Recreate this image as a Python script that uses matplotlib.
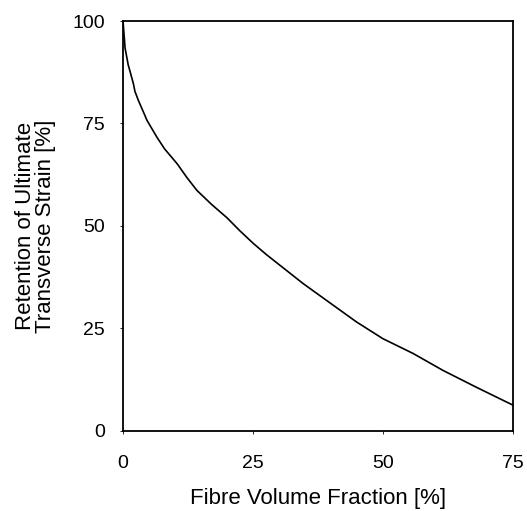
import matplotlib
matplotlib.use("Agg")
import matplotlib.pyplot as plt

plt.rcParams['font.family'] = ['Liberation Sans', 'DejaVu Sans']

# fibre volume fraction [%] and retention of ultimate transverse strain [%]
vf = [0, 0.4, 1.0, 1.4, 2.0, 2.3, 3.0, 4.2, 4.6, 6.5, 8.0, 10.4, 12.3, 14.2, 17.0, 20.0,
      22.5, 25.1, 27.6, 30.2, 34.7, 40.4, 44.9, 50.0, 55.8, 61.5, 67.9, 75.0]
retention = [100, 93.4, 89.3, 87.5, 84.7, 82.8, 80.5, 77.0, 75.8, 71.7, 68.8, 65.2,
             61.8, 58.7, 55.3, 52.0, 48.8, 45.7, 43.0, 40.4, 35.9, 30.7, 26.6, 22.5,
             18.9, 14.8, 10.7, 6.3]

xticks = [0, 25, 50, 75]
yticks = [0, 25, 50, 75, 100]

fig = plt.figure(figsize=(5.27, 5.11), dpi=100)
ax = fig.add_axes([0.2334, 0.1566, 0.74, 0.8023])

ax.plot(vf, retention, color='black', lw=1.2)

ax.set_xlim(0, 75)
ax.set_ylim(0, 100)
ax.set_xticks(xticks)
ax.set_yticks(yticks)
ax.tick_params(length=2, width=0.6, labelsize=14, pad=11)
ax.tick_params(axis='x', pad=15)
for s in ax.spines.values():
    s.set_linewidth(1.3)

ax.set_xlabel('Fibre Volume Fraction [%]', fontsize=16, labelpad=12)
ax.set_ylabel('Retention of Ultimate\nTransverse Strain [%]', fontsize=16,
              labelpad=12, linespacing=0.9)

fig.savefig('out.png', dpi=100)
